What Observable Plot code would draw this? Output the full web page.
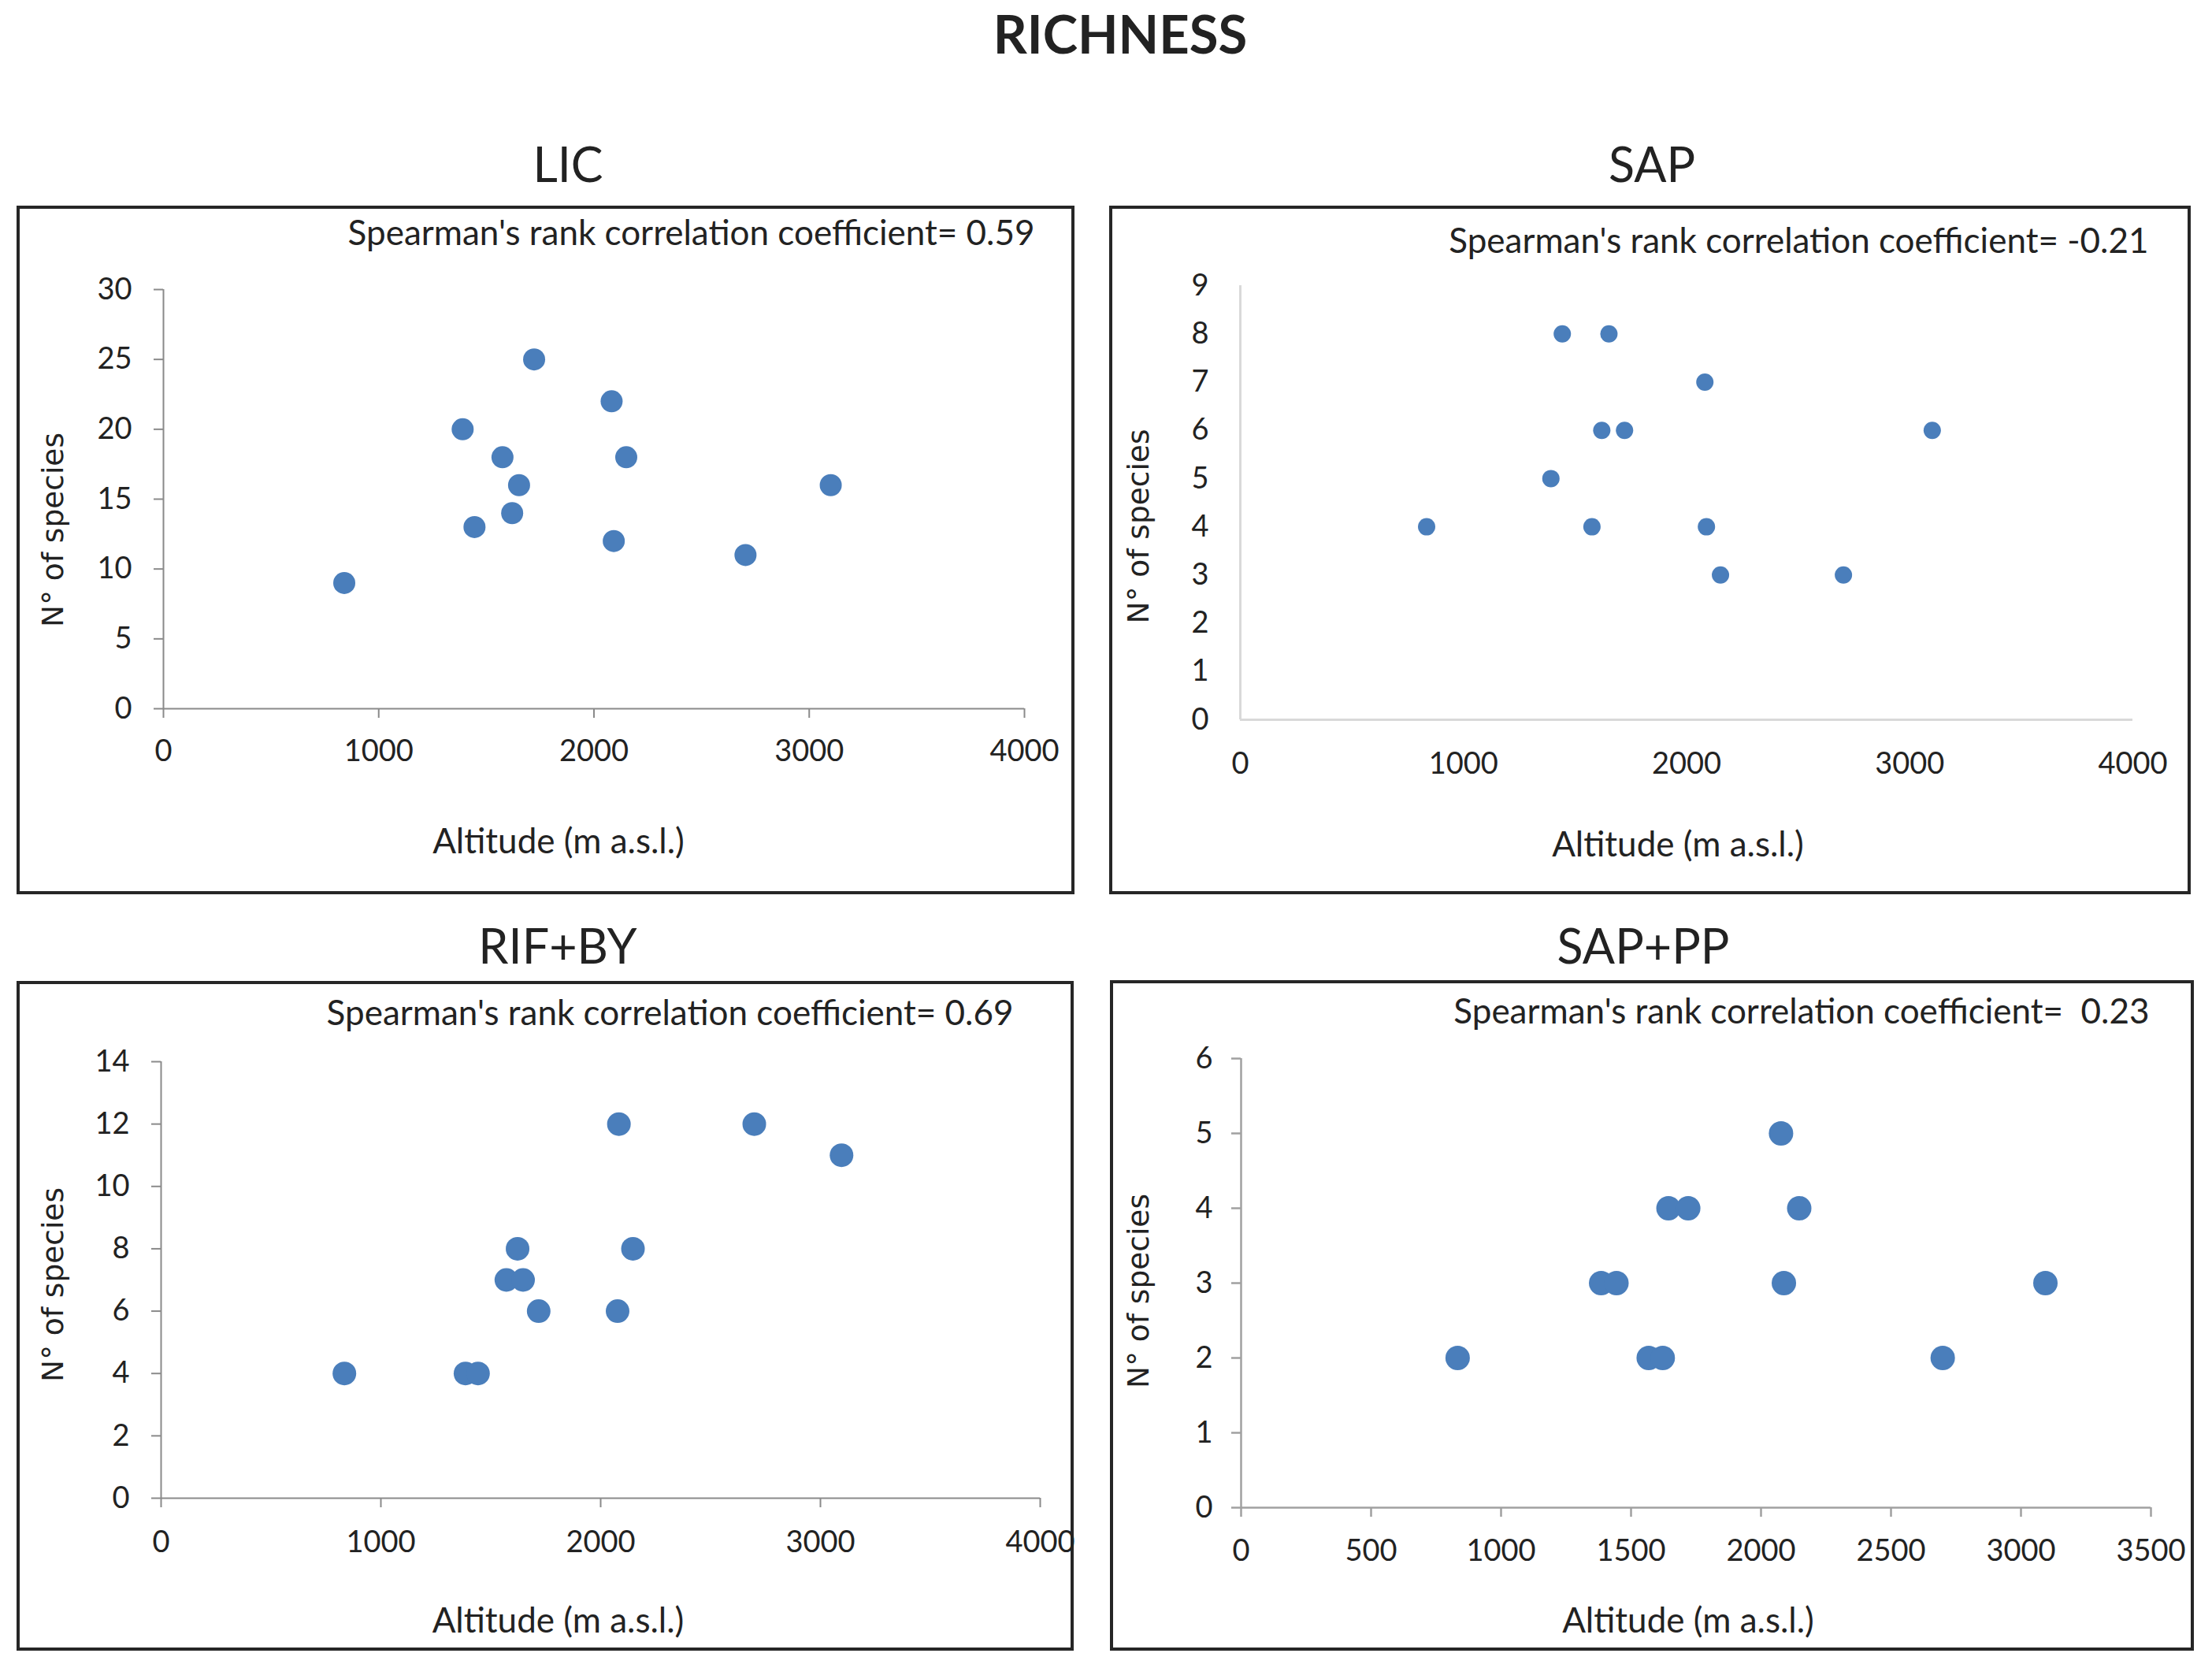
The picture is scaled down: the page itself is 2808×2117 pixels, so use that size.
<!DOCTYPE html>
<html>
<head>
<meta charset="utf-8">
<script src="https://cdn.jsdelivr.net/npm/d3@7"></script>
<script src="https://cdn.jsdelivr.net/npm/@observablehq/plot@0.6"></script>
<style>
  html, body { margin: 0; padding: 0; background: #fff; }
  #root { position: relative; width: 2808px; height: 2117px; background: #fff; font-family: Lato, "Open Sans", sans-serif; color: #222; overflow: hidden; }
  .ttl { position: absolute; transform: translate(-50%, -50%); white-space: nowrap; line-height: 1; }
  .main { font-size: 67px; font-weight: 700; }
  .sub { font-size: 61px; font-weight: 400; }
  .box { position: absolute; box-sizing: border-box; border: 4px solid #262626; background: #fff; }
  .box svg { display: block; overflow: visible; }
</style>
</head>
<body>
<div id="root">
  <div class="ttl main" style="left:1422px;top:42px">RICHNESS</div>
  <div class="ttl sub" style="left:721px;top:207px">LIC</div>
  <div class="ttl sub" style="left:2097px;top:207px">SAP</div>
  <div class="ttl sub" style="left:708px;top:1199px">RIF+BY</div>
  <div class="ttl sub" style="left:2086px;top:1199px">SAP+PP</div>
</div>
<script>
// ---- data ----
const licAlt  = [840, 1390, 1445, 1575, 1620, 1652, 1722, 2082, 2092, 2150, 2704, 3100];
const licRich = [9, 20, 13, 18, 14, 16, 25, 22, 12, 18, 11, 16];

const sapAlt  = [835, 1392, 1443, 1576, 1620, 1652, 1722, 2082, 2089, 2152, 2703, 3101];
const sapRich = [4, 5, 8, 4, 6, 8, 6, 7, 4, 3, 3, 6];

const rifAlt  = [834, 1385, 1442, 1571, 1622, 1647, 1718, 2077, 2083, 2147, 2699, 3096];
const rifRich = [4, 4, 4, 7, 8, 7, 6, 6, 12, 8, 12, 11];

const sppAlt  = [833, 1385, 1444, 1568, 1622, 1644, 1720, 2077, 2088, 2147, 2699, 3094];
const sppRich = [2, 3, 3, 2, 2, 4, 4, 5, 3, 4, 2, 3];

const xTicks4000 = [0, 1000, 2000, 3000, 4000];
const xTicks3500 = [0, 500, 1000, 1500, 2000, 2500, 3000, 3500];
const licYTicks = [0, 5, 10, 15, 20, 25, 30];
const sapYTicks = [0, 1, 2, 3, 4, 5, 6, 7, 8, 9];
const rifYTicks = [0, 2, 4, 6, 8, 10, 12, 14];
const sppYTicks = [0, 1, 2, 3, 4, 5, 6];

const spearmanLabels = [
  "Spearman's rank correlation coefficient= 0.59",
  "Spearman's rank correlation coefficient= -0.21",
  "Spearman's rank correlation coefficient= 0.69",
  "Spearman's rank correlation coefficient=\u00a0 0.23"
];
const xLabel = "Altitude (m a.s.l.)";
const yLabel = "N\u00b0 of species";

// ---- panel drawing ----
const BLUE = "#4a7ebb";
const fmt = d => String(d);

function panel(cfg) {
  const data = cfg.alt.map((a, i) => ({alt: a, n: cfg.rich[i]}));
  const w = cfg.R - cfg.L - 8, h = cfg.B - cfg.T - 8;
  const plot = Plot.plot({
    width: w, height: h,
    marginLeft: cfg.mL, marginRight: cfg.mR, marginTop: cfg.mT, marginBottom: cfg.mB,
    x: {domain: [0, cfg.xMax]},
    y: {domain: [0, cfg.yMax]},
    style: {fontFamily: "Lato, 'Open Sans', sans-serif", fontSize: "38px", color: "#222", background: "transparent", overflow: "visible"},
    marks: [
      Plot.axisX({ticks: cfg.xTicks, tickFormat: fmt, tickSize: cfg.tick, tickPadding: cfg.xPad, stroke: cfg.axis, strokeWidth: cfg.sw, fill: "#222", label: null, fontSize: 38}),
      Plot.axisY({ticks: cfg.yTicks, tickFormat: fmt, tickSize: cfg.tick, tickPadding: cfg.yPad, stroke: cfg.axis, strokeWidth: cfg.sw, fill: "#222", label: null, fontSize: 38}),
      Plot.ruleY([0], {stroke: cfg.axis, strokeWidth: cfg.sw}),
      Plot.ruleX([0], {stroke: cfg.axis, strokeWidth: cfg.sw}),
      Plot.dot(data, {x: "alt", y: "n", r: cfg.r, fill: BLUE, stroke: "none"}),
      Plot.text([cfg.spear], {frameAnchor: "top-right", textAnchor: "end", lineAnchor: "middle", dx: cfg.sDx, dy: cfg.sDy, fontSize: 44, fill: "#222"}),
      Plot.text([xLabel], {frameAnchor: "bottom", textAnchor: "middle", lineAnchor: "middle", dx: cfg.xDx, dy: cfg.xDy, fontSize: 44, fill: "#222"}),
      Plot.text([yLabel], {frameAnchor: "left", textAnchor: "middle", lineAnchor: "middle", rotate: -90, dx: cfg.yDx, dy: cfg.yDy, fontSize: 37.5, fontFamily: "'DejaVu Sans', sans-serif", fill: "#222"})
    ]
  });
  const box = document.createElement("div");
  box.className = "box";
  box.style.left = cfg.L + "px";
  box.style.top = cfg.T + "px";
  box.style.width = (cfg.R - cfg.L) + "px";
  box.style.height = (cfg.B - cfg.T) + "px";
  box.appendChild(plot);
  document.getElementById("root").appendChild(box);
}

panel({alt: licAlt, rich: licRich, xMax: 4000, yMax: 30, xTicks: xTicks4000, yTicks: licYTicks,
  L: 21, T: 261, R: 1364, B: 1135, mL: 182, mR: 60, mT: 102, mB: 232,
  tick: 12, xPad: 28, yPad: 28, axis: "#8a8a8a", sw: 2, r: 14,
  spear: spearmanLabels[0], sDx: 13, sDy: -71, xDx: -45, xDy: 169, yDx: -140, yDy: 39});

panel({alt: sapAlt, rich: sapRich, xMax: 4000, yMax: 9, xTicks: xTicks4000, yTicks: sapYTicks,
  L: 1408, T: 261, R: 2781, B: 1135, mL: 162, mR: 70, mT: 97, mB: 218,
  tick: 0, xPad: 42, yPad: 40, axis: "#d9d9d9", sw: 3, r: 11,
  spear: spearmanLabels[1], sDx: 20, sDy: -56, xDx: -11, xDy: 159, yDx: -129, yDy: 30});

panel({alt: rifAlt, rich: rifRich, xMax: 4000, yMax: 14, xTicks: xTicks4000, yTicks: rifYTicks,
  L: 21, T: 1245, R: 1363, B: 2095, mL: 179, mR: 39, mT: 98, mB: 190,
  tick: 12, xPad: 30, yPad: 28, axis: "#8a8a8a", sw: 2, r: 15,
  spear: spearmanLabels[2], sDx: -34, sDy: -61, xDx: -54, xDy: 156, yDx: -137, yDy: 6});

panel({alt: sppAlt, rich: sppRich, xMax: 3500, yMax: 6, xTicks: xTicks3500, yTicks: sppYTicks,
  L: 1409, T: 1244, R: 2785, B: 2095, mL: 162, mR: 51, mT: 95, mB: 178,
  tick: 12, xPad: 29, yPad: 24, axis: "#a0a0a0", sw: 2.5, r: 15.5,
  spear: spearmanLabels[3], sDx: -2, sDy: -59, xDx: -10, xDy: 144, yDx: -130, yDy: 10});
</script>
</body>
</html>
